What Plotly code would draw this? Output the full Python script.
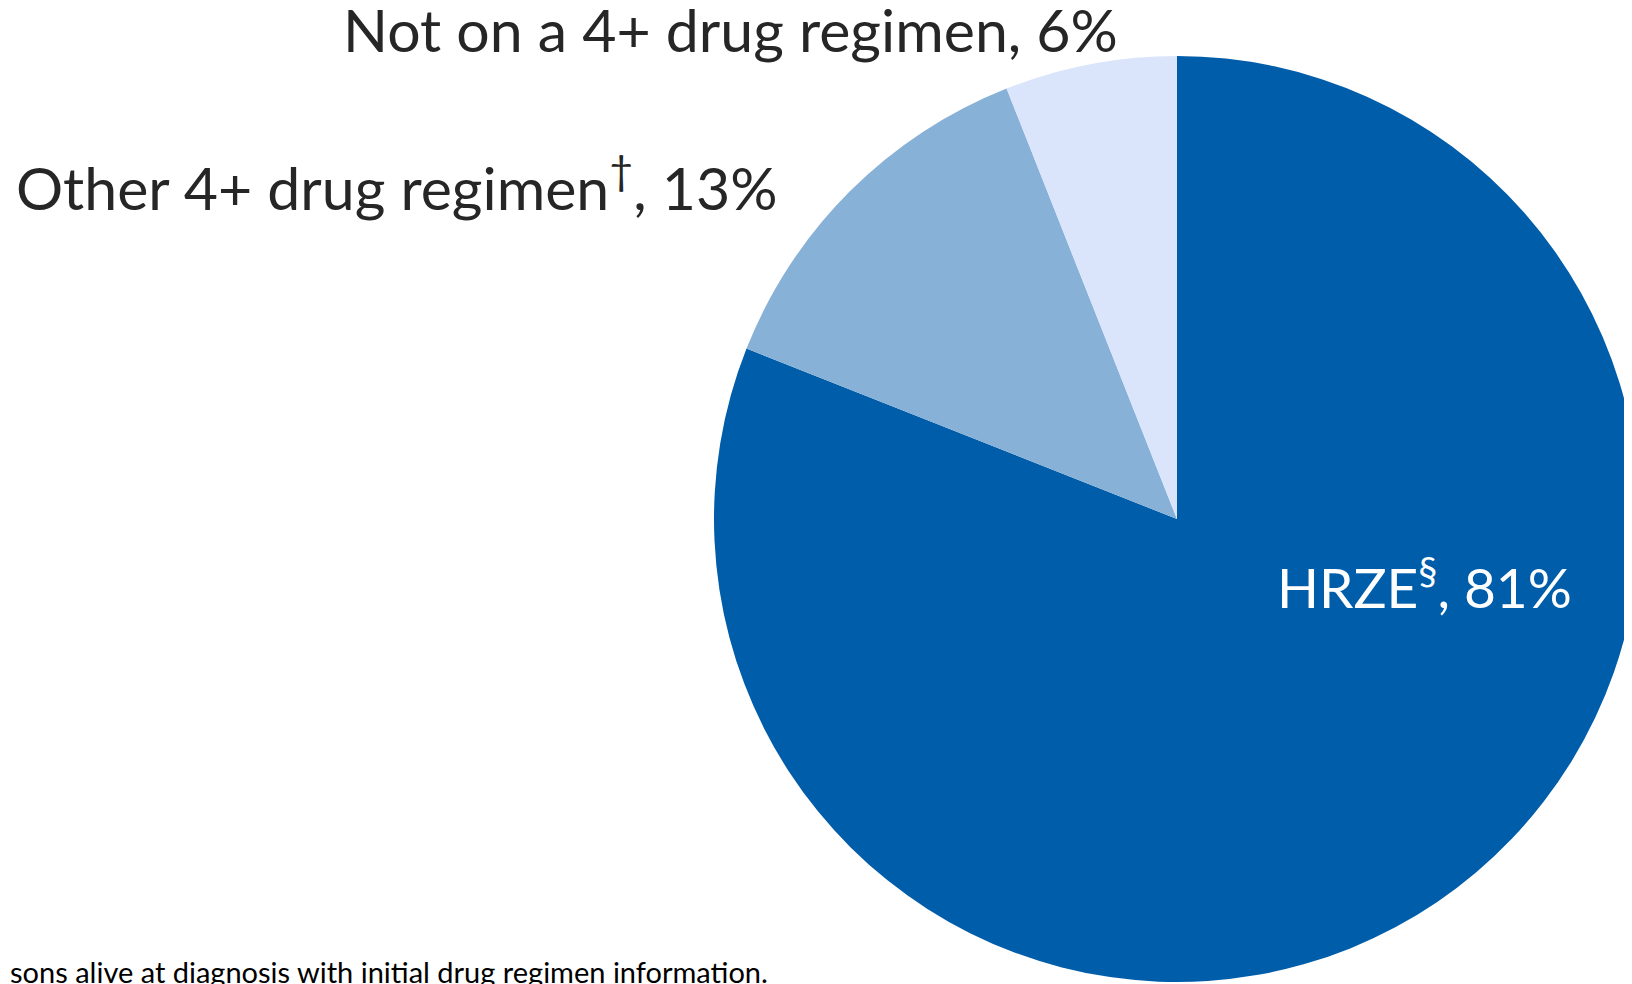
import plotly.graph_objects as go

labels = ["HRZE§", "Other 4+ drug regimen†", "Not on a 4+ drug regimen"]
values = [81, 13, 6]
colors = ["#005DAA", "#88B1D7", "#DAE5FB"]
footnote = "sons alive at diagnosis with initial drug regimen information."

W, H = 1632, 984
FONT = "Lato, Open Sans, sans-serif"
TXT = "#262626"

fig = go.Figure(go.Pie(
    labels=labels, values=values, sort=False, direction="clockwise", rotation=0,
    marker=dict(colors=colors, line=dict(width=0)),
    textinfo="none", hoverinfo="label+percent",
    domain=dict(x=[706 / W, 1.0], y=[10 / H, 936 / H]),
    showlegend=False,
))

def lab(i):
    return f"{values[i]}%"

anns = [
    dict(text=f"Not on a 4+ drug regimen, {lab(2)}", x=722 / W, y=1 - 22 / H,
         xanchor="center", yanchor="middle", font=dict(size=59, color=TXT, family=FONT)),
    dict(text=f"Other 4+ drug regimen<sup>†</sup>, {lab(1)}", x=388 / W, y=1 - 175 / H,
         xanchor="center", yanchor="middle", font=dict(size=59, color=TXT, family=FONT)),
    dict(text=f"HRZE<sup>§</sup>, {lab(0)}", x=1416 / W, y=1 - 575 / H,
         xanchor="center", yanchor="middle", font=dict(size=55, color="white", family=FONT)),
    dict(text=footnote, x=0, y=1 - 963 / H, xanchor="left", yanchor="middle",
         font=dict(size=29, color="black", family=FONT)),
]
for a in anns:
    a.update(xref="paper", yref="paper", showarrow=False)

fig.update_layout(
    width=W, height=H, margin=dict(l=0, r=0, t=0, b=0),
    paper_bgcolor="white", plot_bgcolor="white", annotations=anns,
)
fig.write_html("out.html")
